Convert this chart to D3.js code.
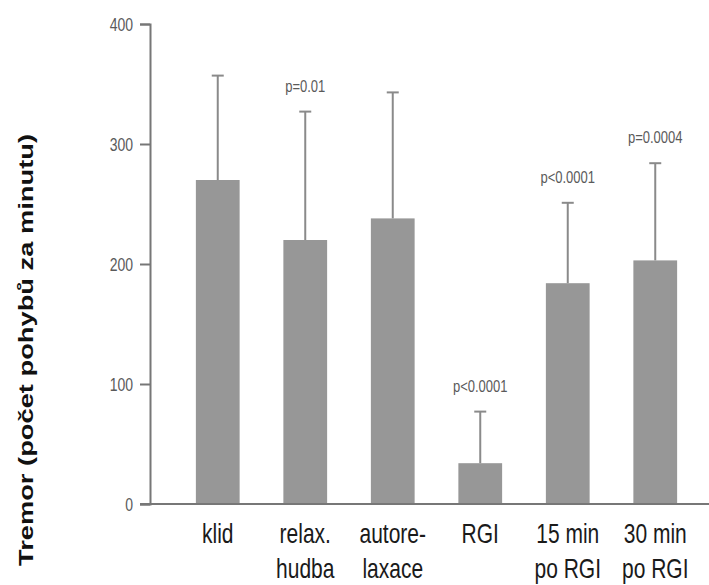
<!DOCTYPE html>
<html>
<head>
<meta charset="utf-8">
<script src="https://cdn.jsdelivr.net/npm/d3@7"></script>
<style>
  html, body { margin: 0; padding: 0; background: #fff; }
  svg { display: block; }
</style>
</head>
<body>
<svg id="chart" width="709" height="585"></svg>
<script>
// Tremor counts per condition (mean with upper SD whisker)
const categories = [
  ["klid"],
  ["relax.", "hudba"],
  ["autore-", "laxace"],
  ["RGI"],
  ["15 min", "po RGI"],
  ["30 min", "po RGI"]
];
const means = [270, 220, 238, 34, 184, 203];
const upper = [357, 327, 343, 77, 251, 284];
const pLabels = ["", "p=0.01", "", "p<0.0001", "p<0.0001", "p=0.0004"];
const yTicks = [0, 100, 200, 300, 400];
const yTitle = "Tremor (počet pohybů za minutu)";

const svg = d3.select("#chart");
const font = "'Liberation Sans', Arial, sans-serif";
const tall = 1.3; // text is drawn vertically elongated

const x = d3.scaleBand()
  .domain(d3.range(categories.length))
  .range([174, 699])
  .paddingInner(0.5)
  .paddingOuter(0.25);

const y = d3.scaleLinear().domain([0, 400]).range([504, 24]);
const cx = i => x(i) + x.bandwidth() / 2;

// bars
svg.append("g").selectAll("rect")
  .data(means)
  .join("rect")
  .attr("x", (d, i) => x(i))
  .attr("width", x.bandwidth())
  .attr("y", d => y(d))
  .attr("height", d => y(0) - y(d))
  .attr("fill", "#979797");

// whiskers
const err = svg.append("g").attr("stroke", "#8a8a8a").attr("stroke-width", 2);
upper.forEach((u, i) => {
  err.append("line").attr("x1", cx(i)).attr("x2", cx(i)).attr("y1", y(means[i])).attr("y2", y(u));
  err.append("line").attr("x1", cx(i) - 6).attr("x2", cx(i) + 6).attr("y1", y(u)).attr("y2", y(u));
});

// significance labels
svg.append("g").selectAll("text")
  .data(pLabels)
  .join("text")
  .attr("transform", (d, i) => `translate(${cx(i)},${y(upper[i]) - 20}) scale(1,${tall})`)
  .attr("text-anchor", "middle")
  .attr("font-family", font)
  .attr("font-size", 13)
  .attr("fill", "#5a5a5a")
  .text(d => d);

// y axis
const yAxis = svg.append("g")
  .attr("transform", "translate(150,0)")
  .call(d3.axisLeft(y).tickValues(yTicks).tickSize(10).tickPadding(7));
yAxis.select(".domain").attr("stroke", "#777").attr("stroke-width", 2);
yAxis.selectAll(".tick line").attr("stroke", "#777").attr("stroke-width", 2);
yAxis.selectAll(".tick text")
  .attr("x", null).attr("dy", null)
  .attr("transform", `translate(-17,6) scale(1,${tall})`)
  .attr("font-family", font)
  .attr("font-size", 14)
  .attr("fill", "#5a5a5a");

// baseline
svg.append("line")
  .attr("x1", 140).attr("x2", 709)
  .attr("y1", y(0)).attr("y2", y(0))
  .attr("stroke", "#777").attr("stroke-width", 2);

// category labels
const cat = svg.append("g");
categories.forEach((lines, i) => {
  lines.forEach((s, k) => {
    cat.append("text")
      .attr("transform", `translate(${cx(i)},${543 + k * 35}) scale(1,${tall})`)
      .attr("text-anchor", "middle")
      .attr("font-family", font)
      .attr("font-size", 21)
      .attr("fill", "#1a1a1a")
      .text(s);
  });
});

// y title
svg.append("text")
  .attr("transform", `translate(33,350) rotate(-90) scale(${tall},1)`)
  .attr("text-anchor", "middle")
  .attr("font-family", font)
  .attr("font-weight", "bold")
  .attr("font-size", 21)
  .attr("fill", "#111")
  .text(yTitle);
</script>
</body>
</html>
